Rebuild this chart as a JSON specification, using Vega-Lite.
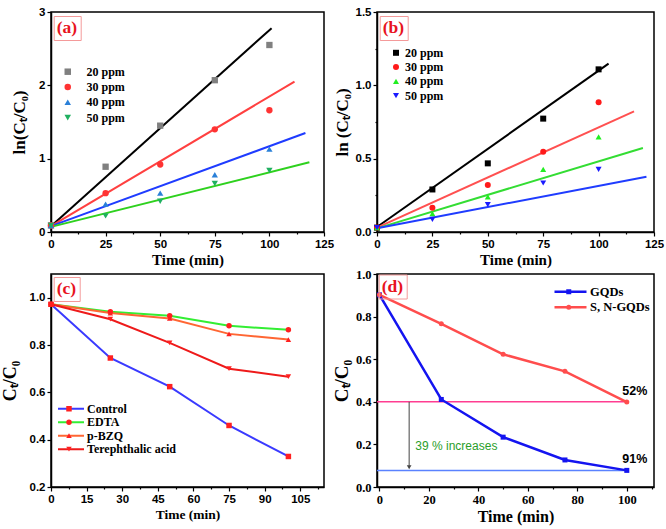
{
  "$schema": "https://vega.github.io/schema/vega-lite/v6.json",
  "background": "white",
  "padding": {"left": 0, "top": 5, "right": 0, "bottom": 0},
  "columns": 2,
  "spacing": {"row": 42, "column": 53},
  "bounds": "flush",
  "resolve": {
    "scale": {"color": "independent", "shape": "independent", "stroke": "independent", "size": "independent", "x": "independent", "y": "independent"},
    "legend": {"color": "independent", "shape": "independent", "stroke": "independent", "size": "independent"}
  },
  "datasets": {
    "tags": [{"panel": "(a)"}, {"panel": "(b)"}, {"panel": "(c)"}, {"panel": "(d)"}],
    "aPts": [
      {"series": "20 ppm", "t": 0, "v": 0.09}, {"series": "20 ppm", "t": 25, "v": 0.89}, {"series": "20 ppm", "t": 50, "v": 1.45}, {"series": "20 ppm", "t": 75, "v": 2.07}, {"series": "20 ppm", "t": 100, "v": 2.55},
      {"series": "30 ppm", "t": 0, "v": 0.09}, {"series": "30 ppm", "t": 25, "v": 0.53}, {"series": "30 ppm", "t": 50, "v": 0.92}, {"series": "30 ppm", "t": 75, "v": 1.40}, {"series": "30 ppm", "t": 100, "v": 1.66},
      {"series": "40 ppm", "t": 0, "v": 0.09}, {"series": "40 ppm", "t": 25, "v": 0.38}, {"series": "40 ppm", "t": 50, "v": 0.53}, {"series": "40 ppm", "t": 75, "v": 0.78}, {"series": "40 ppm", "t": 100, "v": 1.13},
      {"series": "50 ppm", "t": 0, "v": 0.09}, {"series": "50 ppm", "t": 25, "v": 0.22}, {"series": "50 ppm", "t": 50, "v": 0.42}, {"series": "50 ppm", "t": 75, "v": 0.66}, {"series": "50 ppm", "t": 100, "v": 0.84}
    ],
    "aFit": [
      {"series": "20 ppm", "t": 0, "v": 0.08}, {"series": "20 ppm", "t": 101, "v": 2.78},
      {"series": "30 ppm", "t": 0, "v": 0.08}, {"series": "30 ppm", "t": 111.5, "v": 2.05},
      {"series": "40 ppm", "t": 0, "v": 0.08}, {"series": "40 ppm", "t": 116.5, "v": 1.35},
      {"series": "50 ppm", "t": 0, "v": 0.07}, {"series": "50 ppm", "t": 118.3, "v": 0.95}
    ],
    "bPts": [
      {"series": "20 ppm", "t": 0, "v": 0.03}, {"series": "20 ppm", "t": 25, "v": 0.29}, {"series": "20 ppm", "t": 50, "v": 0.468}, {"series": "20 ppm", "t": 75, "v": 0.773}, {"series": "20 ppm", "t": 100, "v": 1.109},
      {"series": "30 ppm", "t": 0, "v": 0.03}, {"series": "30 ppm", "t": 25, "v": 0.166}, {"series": "30 ppm", "t": 50, "v": 0.32}, {"series": "30 ppm", "t": 75, "v": 0.548}, {"series": "30 ppm", "t": 100, "v": 0.884},
      {"series": "40 ppm", "t": 0, "v": 0.03}, {"series": "40 ppm", "t": 25, "v": 0.125}, {"series": "40 ppm", "t": 50, "v": 0.24}, {"series": "40 ppm", "t": 75, "v": 0.427}, {"series": "40 ppm", "t": 100, "v": 0.648},
      {"series": "50 ppm", "t": 0, "v": 0.03}, {"series": "50 ppm", "t": 25, "v": 0.086}, {"series": "50 ppm", "t": 50, "v": 0.186}, {"series": "50 ppm", "t": 75, "v": 0.334}, {"series": "50 ppm", "t": 100, "v": 0.427}
    ],
    "bFit": [
      {"series": "20 ppm", "t": 0, "v": 0.034}, {"series": "20 ppm", "t": 104.5, "v": 1.148},
      {"series": "30 ppm", "t": 0, "v": 0.03}, {"series": "30 ppm", "t": 116, "v": 0.823},
      {"series": "40 ppm", "t": 0, "v": 0.025}, {"series": "40 ppm", "t": 120, "v": 0.573},
      {"series": "50 ppm", "t": 0, "v": 0.025}, {"series": "50 ppm", "t": 121.6, "v": 0.377}
    ],
    "cData": [
      {"series": "Control", "t": 0, "v": 0.972}, {"series": "Control", "t": 25, "v": 0.745}, {"series": "Control", "t": 50, "v": 0.624}, {"series": "Control", "t": 75, "v": 0.46}, {"series": "Control", "t": 100, "v": 0.329},
      {"series": "EDTA", "t": 0, "v": 0.972}, {"series": "EDTA", "t": 25, "v": 0.941}, {"series": "EDTA", "t": 50, "v": 0.924}, {"series": "EDTA", "t": 75, "v": 0.881}, {"series": "EDTA", "t": 100, "v": 0.864},
      {"series": "p-BZQ", "t": 0, "v": 0.972}, {"series": "p-BZQ", "t": 25, "v": 0.935}, {"series": "p-BZQ", "t": 50, "v": 0.912}, {"series": "p-BZQ", "t": 75, "v": 0.847}, {"series": "p-BZQ", "t": 100, "v": 0.823},
      {"series": "Terephthalic acid", "t": 0, "v": 0.972}, {"series": "Terephthalic acid", "t": 25, "v": 0.909}, {"series": "Terephthalic acid", "t": 50, "v": 0.809}, {"series": "Terephthalic acid", "t": 75, "v": 0.70}, {"series": "Terephthalic acid", "t": 100, "v": 0.666}
    ],
    "dData": [
      {"series": "GQDs", "t": 0, "v": 0.902}, {"series": "GQDs", "t": 25, "v": 0.411}, {"series": "GQDs", "t": 50, "v": 0.234}, {"series": "GQDs", "t": 75, "v": 0.127}, {"series": "GQDs", "t": 100, "v": 0.078},
      {"series": "S, N-GQDs", "t": 0, "v": 0.902}, {"series": "S, N-GQDs", "t": 25, "v": 0.766}, {"series": "S, N-GQDs", "t": 50, "v": 0.623}, {"series": "S, N-GQDs", "t": 75, "v": 0.543}, {"series": "S, N-GQDs", "t": 100, "v": 0.399}
    ],
    "dNotes": [
      {"note": "52%", "t": 100, "v": 0.4},
      {"note": "91%", "t": 100, "v": 0.078}
    ],
    "dRefs": [
      {"ref": "S, N-GQDs", "from": -1, "to": 100, "v": 0.4},
      {"ref": "GQDs", "from": -1, "to": 100, "v": 0.078}
    ],
    "dArrow": [
      {"t": 12, "top": 0.4, "bottom": 0.093}
    ],
    "dText": [
      {"text": "39 % increases", "t": 14.5, "v": 0.192}
    ]
  },
  "concat": [
    {
      "width": 273,
      "height": 220,
      "layer": [
        {
          "encoding": {
            "x": {"field": "t", "type": "quantitative", "scale": {"domain": [0, 125], "nice": false, "zero": false},
              "axis": {"title": "Time (min)", "titleFontSize": 15, "values": [0, 12.5, 25, 37.5, 50, 62.5, 75, 87.5, 100, 112.5, 125],
                "labelExpr": "datum.value % 25 === 0 ? datum.label : ''",
                "tickSize": {"condition": {"test": "datum.value % 25 !== 0", "value": 2}, "value": 4}}},
            "y": {"field": "v", "type": "quantitative", "scale": {"domain": [0, 3], "nice": false},
              "axis": {"title": "ln(Cₜ/C₀)", "titleFontSize": 17, "values": [0, 1, 2, 3], "titleX": -32, "titleBaseline": "middle"}}
          },
          "layer": [
            {
              "data": {"name": "aFit"},
              "mark": {"type": "line", "strokeWidth": 2},
              "encoding": {
                "stroke": {"field": "series", "type": "nominal", "legend": null,
                  "scale": {"domain": ["20 ppm", "30 ppm", "40 ppm", "50 ppm"], "range": ["#000000", "#ff4040", "#1f3cff", "#2ed11e"]}}
              }
            },
            {
              "data": {"name": "aPts"},
              "mark": {"type": "point", "filled": true, "size": 40, "opacity": 1},
              "encoding": {
                "color": {"field": "series", "type": "nominal",
                  "scale": {"range": ["#808080", "#ff3333", "#2a80d8", "#20b060"]},
                  "legend": {"orient": "none", "legendX": 10.75, "legendY": 53.7, "title": null, "symbolSize": 42, "labelOffset": 12.75, "rowPadding": 3.3}},
                "shape": {"field": "series", "type": "nominal",
                  "scale": {"range": ["square", "circle", "triangle-up", "triangle-down"]},
                  "legend": {"orient": "none", "legendX": 10.75, "legendY": 53.7, "title": null, "symbolSize": 42, "labelOffset": 12.75, "rowPadding": 3.3}}
              }
            }
          ]
        },
        {
          "data": {"name": "tags"},
          "transform": [{"filter": "datum.panel === '(a)'"}],
          "mark": {"type": "point", "opacity": 0},
          "encoding": {
            "size": {"field": "panel", "type": "ordinal", "scale": {"range": [0, 0]},
              "legend": {"orient": "none", "legendX": 2.7, "legendY": 4, "title": "(a)", "titleFont": "Liberation Serif", "titleFontWeight": "bold", "titleFontSize": 17.5, "titleColor": "#e8141e", "titlePadding": 0, "labelOpacity": 0, "symbolOpacity": 0, "strokeColor": "#f49a9a", "padding": 3}}
          }
        }
      ]
    },
    {
      "width": 277,
      "height": 220,
      "layer": [
        {
          "encoding": {
            "x": {"field": "t", "type": "quantitative", "scale": {"domain": [0, 125], "nice": false, "zero": false},
              "axis": {"title": "Time (min)", "titleFontSize": 15, "values": [0, 12.5, 25, 37.5, 50, 62.5, 75, 87.5, 100, 112.5, 125],
                "labelExpr": "datum.value % 25 === 0 ? datum.label : ''",
                "tickSize": {"condition": {"test": "datum.value % 25 !== 0", "value": 2}, "value": 4}}},
            "y": {"field": "v", "type": "quantitative", "scale": {"domain": [0, 1.5], "nice": false},
              "axis": {"title": "ln (Cₜ/C₀)", "titleFontSize": 17, "format": ".1f", "values": [0, 0.25, 0.5, 0.75, 1, 1.25, 1.5],
                "labelExpr": "datum.value % 0.5 === 0 ? datum.label : ''",
                "tickSize": {"condition": {"test": "datum.value % 0.5 !== 0", "value": 2}, "value": 4},
                "titleX": -35, "titleBaseline": "middle"}}
          },
          "layer": [
            {
              "data": {"name": "bFit"},
              "mark": {"type": "line", "strokeWidth": 2},
              "encoding": {
                "stroke": {"field": "series", "type": "nominal", "legend": null,
                  "scale": {"domain": ["20 ppm", "30 ppm", "40 ppm", "50 ppm"], "range": ["#000000", "#ff5050", "#33dd33", "#1f3cff"]}}
              }
            },
            {
              "data": {"name": "bPts"},
              "mark": {"type": "point", "filled": true, "size": 36, "opacity": 1},
              "encoding": {
                "color": {"field": "series", "type": "nominal",
                  "scale": {"range": ["#000000", "#ff1a1a", "#22ee22", "#1a1aff"]},
                  "legend": {"orient": "none", "legendX": 13, "legendY": 34.8, "title": null, "symbolSize": 36, "labelOffset": 3, "rowPadding": 2.3}},
                "shape": {"field": "series", "type": "nominal",
                  "scale": {"range": ["square", "circle", "triangle-up", "triangle-down"]},
                  "legend": {"orient": "none", "legendX": 13, "legendY": 34.8, "title": null, "symbolSize": 36, "labelOffset": 3, "rowPadding": 2.3}}
              }
            }
          ]
        },
        {
          "data": {"name": "tags"},
          "transform": [{"filter": "datum.panel === '(b)'"}],
          "mark": {"type": "point", "opacity": 0},
          "encoding": {
            "size": {"field": "panel", "type": "ordinal", "scale": {"range": [0, 0]},
              "legend": {"orient": "none", "legendX": 2.7, "legendY": 4, "title": "(b)", "titleFont": "Liberation Serif", "titleFontWeight": "bold", "titleFontSize": 17.5, "titleColor": "#e8141e", "titlePadding": 0, "labelOpacity": 0, "symbolOpacity": 0, "strokeColor": "#f49a9a", "padding": 3}}
          }
        }
      ]
    },
    {
      "width": 273,
      "height": 213,
      "layer": [
        {
          "data": {"name": "cData"},
          "encoding": {
            "x": {"field": "t", "type": "quantitative", "scale": {"domain": [0, 115], "nice": false, "zero": false},
              "axis": {"title": "Time (min)", "titleFontSize": 13.5, "values": [0, 7.5, 15, 22.5, 30, 37.5, 45, 52.5, 60, 67.5, 75, 82.5, 90, 97.5, 105, 112.5],
                "labelExpr": "datum.value % 15 === 0 ? datum.label : ''",
                "tickSize": {"condition": {"test": "datum.value % 15 !== 0", "value": 2}, "value": 4}}},
            "y": {"field": "v", "type": "quantitative", "scale": {"domain": [0.2, 1.1], "nice": false, "zero": false},
              "axis": {"title": "Cₜ/C₀", "titleFontSize": 18, "format": ".1f", "values": [0.2, 0.4, 0.6, 0.8, 1.0], "titleX": -41, "titleBaseline": "middle"}}
          },
          "layer": [
            {
              "mark": {"type": "line", "strokeWidth": 2},
              "encoding": {
                "stroke": {"field": "series", "type": "nominal",
                  "scale": {"domain": ["Control", "EDTA", "p-BZQ", "Terephthalic acid"], "range": ["#3a3aff", "#33ee33", "#ff6633", "#ee1a1a"]},
                  "legend": {"orient": "none", "legendX": 6, "legendY": 128.7, "title": null, "symbolType": "stroke", "symbolSize": 676, "symbolStrokeWidth": 2, "labelOffset": 2, "rowPadding": 1.5, "clipHeight": 12}}
              }
            },
            {
              "mark": {"type": "point", "filled": true, "size": 30, "opacity": 1, "color": "#ff2020"},
              "encoding": {
                "shape": {"field": "series", "type": "nominal", "sort": ["Control", "EDTA", "p-BZQ", "Terephthalic acid"],
                  "scale": {"range": ["square", "circle", "triangle-up", "triangle-down"]},
                  "legend": {"orient": "none", "legendX": 12, "legendY": 128.7, "title": null, "symbolSize": 30, "symbolFillColor": "#ff2020", "symbolStrokeColor": "#ff2020", "labelExpr": "''", "rowPadding": 1.5, "clipHeight": 12}}
              }
            }
          ]
        },
        {
          "data": {"name": "tags"},
          "transform": [{"filter": "datum.panel === '(c)'"}],
          "mark": {"type": "point", "opacity": 0},
          "encoding": {
            "size": {"field": "panel", "type": "ordinal", "scale": {"range": [0, 0]},
              "legend": {"orient": "none", "legendX": 2.7, "legendY": 3, "title": "(c)", "titleFont": "Liberation Serif", "titleFontWeight": "bold", "titleFontSize": 17.5, "titleColor": "#e8141e", "titlePadding": 0, "labelOpacity": 0, "symbolOpacity": 0, "strokeColor": "#f49a9a", "padding": 3}}
          }
        }
      ]
    },
    {
      "width": 277,
      "height": 213,
      "layer": [
        {
          "encoding": {
            "x": {"field": "t", "type": "quantitative", "scale": {"domain": [-1, 111], "nice": false, "zero": false},
              "axis": {"title": "Time (min)", "titleFontSize": 16, "labelFont": "Liberation Serif", "labelFontSize": 12.5,
                "values": [0, 10, 20, 30, 40, 50, 60, 70, 80, 90, 100, 110],
                "labelExpr": "datum.value % 20 === 0 ? datum.label : ''",
                "tickSize": {"condition": {"test": "datum.value % 20 !== 0", "value": 2}, "value": 4}}},
            "y": {"field": "v", "type": "quantitative", "scale": {"domain": [0, 1], "nice": false},
              "axis": {"title": "Cₜ/C₀", "titleFontSize": 19, "labelFont": "Liberation Serif", "labelFontSize": 12.5, "format": ".1f",
                "values": [0, 0.2, 0.4, 0.6, 0.8, 1.0], "titleX": -36, "titleBaseline": "middle"}}
          },
          "layer": [
            {
              "data": {"name": "dRefs"},
              "transform": [{"filter": "datum.ref === 'S, N-GQDs'"}],
              "mark": {"type": "rule", "color": "#ff3d91", "strokeWidth": 1.5},
              "encoding": {
                "x": {"field": "from", "type": "quantitative"},
                "x2": {"field": "to"},
                "y": {"field": "v", "type": "quantitative"}
              }
            },
            {
              "data": {"name": "dRefs"},
              "transform": [{"filter": "datum.ref === 'GQDs'"}],
              "mark": {"type": "rule", "color": "#5a82ff", "strokeWidth": 1.5},
              "encoding": {
                "x": {"field": "from", "type": "quantitative"},
                "x2": {"field": "to"},
                "y": {"field": "v", "type": "quantitative"}
              }
            },
            {
              "data": {"name": "dArrow"},
              "mark": {"type": "rule", "color": "#444444", "strokeWidth": 1},
              "encoding": {
                "x": {"field": "t", "type": "quantitative"},
                "y": {"field": "top", "type": "quantitative"},
                "y2": {"field": "bottom"}
              }
            },
            {
              "data": {"name": "dArrow"},
              "mark": {"type": "point", "shape": "triangle-down", "filled": true, "size": 22, "color": "#444444", "opacity": 1},
              "encoding": {
                "x": {"field": "t", "type": "quantitative"},
                "y": {"field": "bottom", "type": "quantitative"}
              }
            },
            {
              "data": {"name": "dText"},
              "mark": {"type": "text", "align": "left", "baseline": "middle", "font": "Liberation Sans", "fontSize": 12, "color": "#2a9e2a"},
              "encoding": {
                "text": {"field": "text"}
              }
            },
            {
              "data": {"name": "dData"},
              "mark": {"type": "line", "strokeWidth": 2.5},
              "encoding": {
                "stroke": {"field": "series", "type": "nominal",
                  "scale": {"domain": ["GQDs", "S, N-GQDs"], "range": ["#1414f0", "#ff4d4d"]},
                  "legend": {"orient": "none", "legendX": 176, "legendY": 11.45, "title": null, "symbolType": "stroke", "symbolSize": 1024, "symbolStrokeWidth": 2.5, "labelOffset": 2, "rowPadding": 2.5, "labelFontSize": 12.5, "clipHeight": 12.5}}
              }
            },
            {
              "data": {"name": "dData"},
              "mark": {"type": "point", "filled": true, "size": 25, "opacity": 1},
              "encoding": {
                "color": {"field": "series", "type": "nominal",
                  "scale": {"range": ["#1414f0", "#ff4d4d"]},
                  "legend": {"orient": "none", "legendX": 185.5, "legendY": 11.45, "title": null, "symbolSize": 25, "labelExpr": "''", "rowPadding": 2.5, "labelFontSize": 12.5, "clipHeight": 12.5}},
                "shape": {"field": "series", "type": "nominal",
                  "scale": {"range": ["square", "circle"]},
                  "legend": {"orient": "none", "legendX": 185.5, "legendY": 11.45, "title": null, "symbolSize": 25, "labelExpr": "''", "rowPadding": 2.5, "labelFontSize": 12.5, "clipHeight": 12.5}}
              }
            },
            {
              "data": {"name": "dNotes"},
              "mark": {"type": "text", "align": "center", "baseline": "middle", "font": "Liberation Sans", "fontWeight": "bold", "fontSize": 12.5, "color": "black", "dx": 8, "dy": -11},
              "encoding": {
                "text": {"field": "note"}
              }
            }
          ]
        },
        {
          "data": {"name": "tags"},
          "transform": [{"filter": "datum.panel === '(d)'"}],
          "mark": {"type": "point", "opacity": 0},
          "encoding": {
            "size": {"field": "panel", "type": "ordinal", "scale": {"range": [0, 0]},
              "legend": {"orient": "none", "legendX": 1.7, "legendY": 0.5, "title": "(d)", "titleFont": "Liberation Serif", "titleFontWeight": "bold", "titleFontSize": 17.5, "titleColor": "#e8141e", "titlePadding": 0, "labelOpacity": 0, "symbolOpacity": 0, "strokeColor": "#f49a9a", "padding": 3}}
          }
        }
      ]
    }
  ],
  "config": {
    "view": {"stroke": "black", "strokeWidth": 1.5},
    "axis": {
      "domainColor": "black", "domainWidth": 1.5, "tickColor": "black", "tickWidth": 1.2, "tickSize": 4,
      "labelColor": "black", "labelFont": "Liberation Sans", "labelFontWeight": "bold", "labelFontSize": 11.5, "labelPadding": 2,
      "labelFlush": false, "labelOverlap": false, "grid": false,
      "titleColor": "black", "titleFont": "Liberation Serif", "titleFontWeight": "bold", "titlePadding": 3
    },
    "legend": {
      "labelFont": "Liberation Serif", "labelFontWeight": "bold", "labelFontSize": 12, "labelColor": "black", "padding": 0
    }
  }
}
